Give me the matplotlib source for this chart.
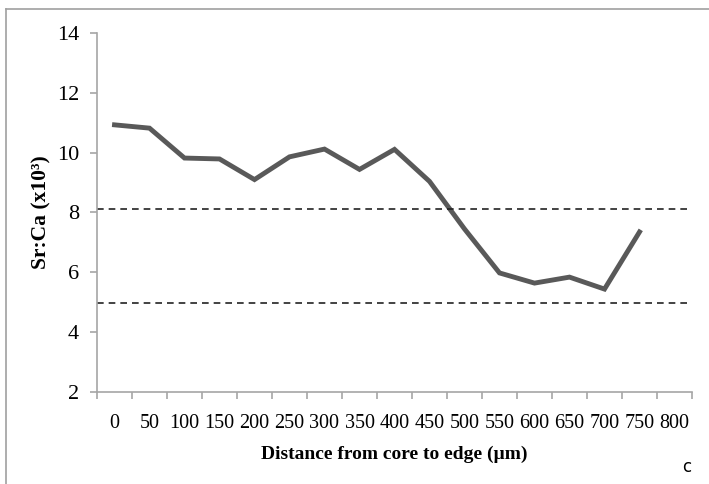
import matplotlib.pyplot as plt
from matplotlib.lines import Line2D

# distancia desde el nucleo (um) y razon Sr:Ca
distancias = ["0", "50", "100", "150", "200", "250", "300", "350", "400",
              "450", "500", "550", "600", "650", "700", "750", "800"]
sr_ca = [10.93, 10.82, 9.82, 9.79, 9.10, 9.86, 10.12, 9.44, 10.11,
         9.04, 7.45, 5.98, 5.64, 5.84, 5.44, 7.35]
limite_sup = 8.13
limite_inf = 4.97

plt.rcParams['font.family'] = ['Liberation Serif', 'DejaVu Serif']

fig = plt.figure(figsize=(7.09, 4.84), dpi=100)
ax = fig.add_axes([97/709, 1 - 392/484, 595/709, 359/484])

x = list(range(len(sr_ca)))
ax.plot(x, sr_ca, color='#595959', linewidth=3.5, solid_joinstyle='miter')
ax.axhline(limite_sup, color='#222222', linewidth=1.2, linestyle=(0, (4, 3)))
ax.axhline(limite_inf, color='#222222', linewidth=1.2, linestyle=(0, (4, 3)))

ax.set_xlim(-0.5, len(distancias) - 0.5)
ax.set_ylim(2, 14)
ax.set_yticks([2, 4, 6, 8, 10, 12, 14])
ax.set_xticks(range(len(distancias)))
ax.set_xticklabels(distancias)
ax.set_xticks([i - 0.5 for i in range(len(distancias) + 1)], minor=True)

for s in ['top', 'right']:
    ax.spines[s].set_visible(False)
for s in ['left', 'bottom']:
    ax.spines[s].set_color('#a6a6a6')
    ax.spines[s].set_linewidth(1.2)

ax.tick_params(axis='x', which='major', length=0, labelsize=14.5, pad=16)
ax.tick_params(axis='x', which='minor', length=5, color='#a6a6a6', width=1.2)
ax.tick_params(axis='y', length=5, color='#a6a6a6', width=1.2, labelsize=16, pad=8)

ax.set_xlabel("Distance from core to edge (\u00b5m)", fontsize=14, fontweight='bold', labelpad=9)
ax.set_ylabel("Sr:Ca (x10\u00b3)", fontsize=15.5, fontweight='bold', labelpad=4)

fig.text(687/709, 1 - 467/484, "c", fontsize=12, family='DejaVu Sans', ha='center', va='center')

# marco exterior
fig.add_artist(Line2D([6/709, 1], [1 - 9/484, 1 - 9/484], color='#a0a0a0', linewidth=1.2,
                      transform=fig.transFigure))
fig.add_artist(Line2D([6/709, 6/709], [0, 1 - 9/484], color='#a0a0a0', linewidth=1.2,
                      transform=fig.transFigure))

fig.savefig("out.png", dpi=100)
